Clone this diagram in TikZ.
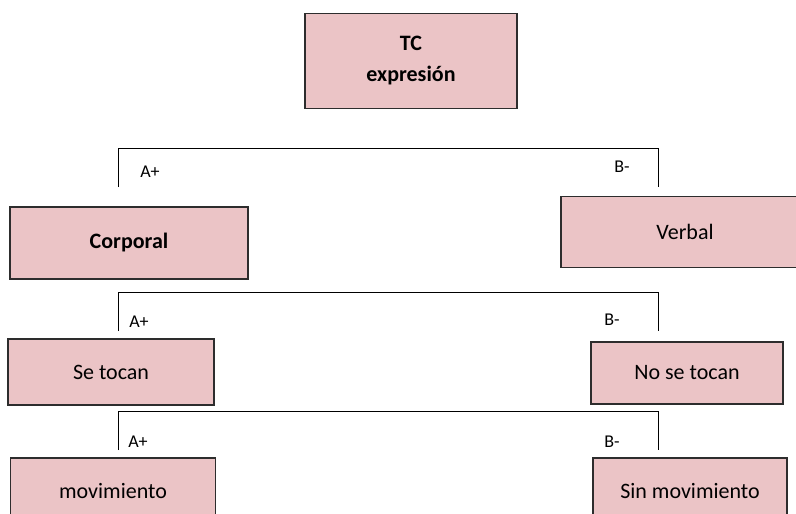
\documentclass[tikz,border=0pt]{standalone}
\usepackage{fontspec}
\setmainfont{Carlito}
\usepackage{tikz}
\usetikzlibrary{positioning}
\definecolor{rosa}{RGB}{235,196,198}
\definecolor{borde}{RGB}{45,45,45}

\begin{document}
\begin{tikzpicture}[x=1pt,y=-1pt,
caja/.style={draw=borde,line width=1.3pt,fill=rosa,inner sep=0pt,align=center,
 font=\fontsize{22}{31}\selectfont},
rama/.style={line width=1pt},
etiqueta/.style={inner sep=0pt,font=\fontsize{18}{20}\selectfont}]
\clip (0,0) rectangle (796,514);
\useasboundingbox (0,0) rectangle (796,514);
% cajas
\node[caja,minimum width=212,minimum height=95] (tc) at (411,61) {\bfseries TC\\\bfseries expresión};
\node[caja,minimum width=238,minimum height=72] (corporal) at (129,243) {\bfseries Corporal};
\node[caja,minimum width=248,minimum height=71] (verbal) at (685,232) {Verbal};
\node[caja,minimum width=206,minimum height=66] (setocan) at (111,372) {Se tocan};
\node[caja,minimum width=192,minimum height=62] (nosetocan) at (687,373) {No se tocan};
\node[caja,minimum width=205,minimum height=66] (movimiento) at (113,491) {movimiento};
\node[caja,minimum width=194,minimum height=66] (sinmovimiento) at (690,491) {Sin movimiento};
% ramas
\coordinate (a1) at (118,187); \coordinate (b1) at (658,187);
\coordinate (a2) at (118,331); \coordinate (b2) at (658,331);
\coordinate (a3) at (118,450); \coordinate (b3) at (658,450);
\draw[rama] (a1) -- ++(0,-39) -| (b1);
\draw[rama] (a2) -- ++(0,-39) -| (b2);
\draw[rama] (a3) -- ++(0,-39) -| (b3);
\node[etiqueta] (ap1) at (150,172) {A+};
\node[etiqueta] (bm1) at (622,167) {B-};
\node[etiqueta] (ap2) at (139,322) {A+};
\node[etiqueta] (bm2) at (612,320) {B-};
\node[etiqueta] (ap3) at (138,442) {A+};
\node[etiqueta] (bm3) at (612,442) {B-};
\end{tikzpicture}
\end{document}
